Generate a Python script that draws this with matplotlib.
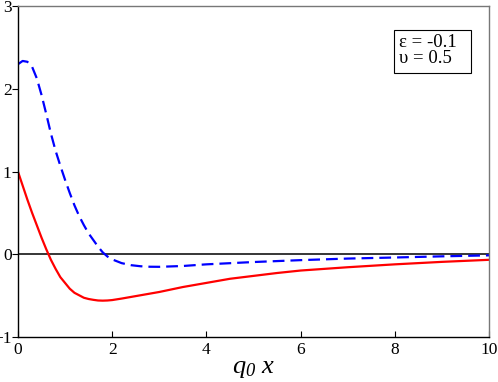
import matplotlib
matplotlib.use("Agg")
import matplotlib.pyplot as plt
from matplotlib.patches import Rectangle

plt.rcParams['font.family'] = ['Liberation Serif', 'DejaVu Serif']
plt.rcParams['mathtext.fontset'] = 'custom'
plt.rcParams['mathtext.it'] = 'Liberation Serif:italic'
plt.rcParams['mathtext.rm'] = 'Liberation Serif:italic'

# valeurs
red_x = [0, 0.1, 0.2, 0.3, 0.4, 0.5, 0.6, 0.7, 0.8, 0.9, 1.0, 1.1, 1.2, 1.3, 1.4, 1.5,
         1.6, 1.7, 1.8, 1.9, 2.0, 2.2, 2.4, 2.6, 2.8, 3.0, 3.5, 4.0, 4.5, 5.0, 5.5,
         6.0, 7.0, 8.0, 9.0, 10]
red_y = [1.0, 0.83, 0.66, 0.50, 0.35, 0.20, 0.06, -0.07, -0.18, -0.28, -0.35, -0.42,
         -0.47, -0.50, -0.53, -0.545, -0.555, -0.563, -0.565, -0.563, -0.558, -0.54,
         -0.52, -0.50, -0.48, -0.46, -0.40, -0.35, -0.30, -0.265, -0.23, -0.20, -0.16,
         -0.125, -0.095, -0.07]

blue_x = [0, 0.1, 0.2, 0.3, 0.4, 0.5, 0.6, 0.7, 0.8, 0.9, 1.0, 1.1, 1.2, 1.3, 1.4, 1.5,
          1.6, 1.7, 1.8, 1.9, 2.0, 2.2, 2.4, 2.6, 2.8, 3.0, 3.5, 4.0, 5.0, 6.0, 7.0,
          8.0, 9.0, 10]
blue_y = [2.30, 2.34, 2.33, 2.27, 2.13, 1.93, 1.70, 1.46, 1.25, 1.07, 0.90, 0.74, 0.59,
          0.46, 0.35, 0.25, 0.17, 0.09, 0.02, -0.03, -0.065, -0.11, -0.135, -0.148,
          -0.154, -0.155, -0.145, -0.125, -0.097, -0.074, -0.055, -0.042, -0.028, -0.016]

xticks = [0, 2, 4, 6, 8, 10]
yticks = [-1, 0, 1, 2, 3]

fig = plt.figure(figsize=(4.98, 3.82), dpi=100)
ax = fig.add_axes([0.036, 0.119, 0.946, 0.864])

ax.axhline(0, color='black', lw=1.1)
ax.plot(red_x, red_y, color='red', lw=1.6)
ax.plot(blue_x, blue_y, color='blue', lw=1.6, linestyle=(0, (5.3, 2.7)))

ax.set_xlim(0, 10)
ax.set_ylim(-1, 3)
ax.set_xticks(xticks)
ax.set_yticks(yticks)
ax.tick_params(axis='x', direction='in', length=4, labelsize=12.5, pad=4, top=False)
ax.tick_params(axis='y', direction='out', length=4, labelsize=12.5, pad=0.5, right=False)
for s in ['top', 'right']:
    ax.spines[s].set_color('#777777')
for s in ax.spines.values():
    s.set_linewidth(1.0)

ax.set_xlabel(r'$q_0\ x$', fontsize=19, labelpad=0)

# cadre des paramètres
ax.add_patch(Rectangle((0.798, 0.800), 0.164, 0.130, transform=ax.transAxes,
                       fc='white', ec='black', lw=0.8, zorder=5))
ax.text(0.8096, 0.918, 'ε = -0.1\nυ = 0.5', transform=ax.transAxes,
        fontsize=13.5, va='top', ha='left', linespacing=0.92, zorder=6)

fig.savefig('out.png', dpi=100)
